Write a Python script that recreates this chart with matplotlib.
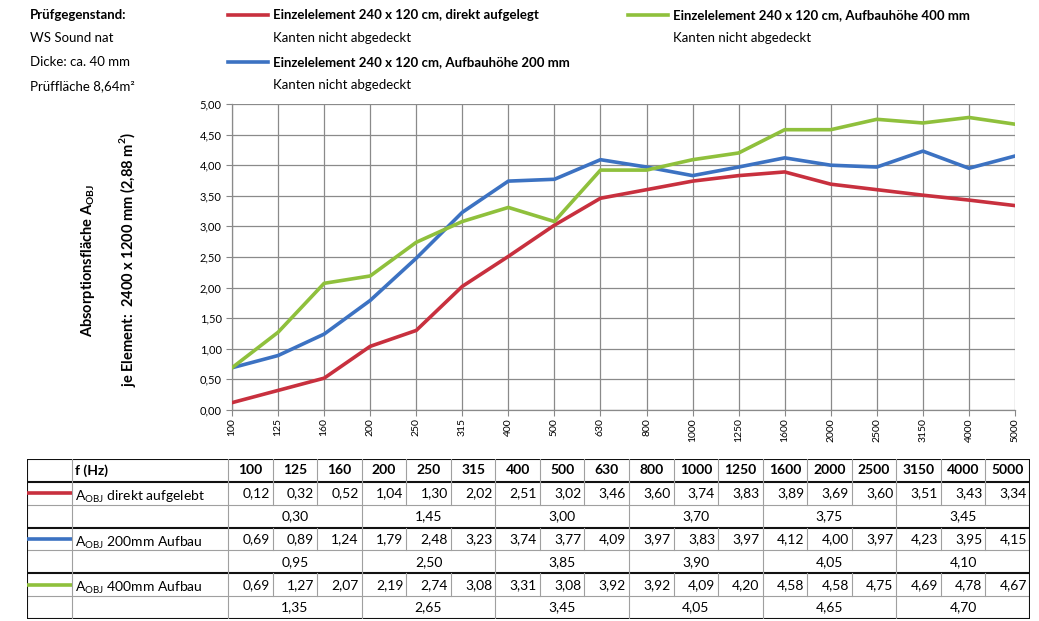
import matplotlib
matplotlib.use("Agg")
import matplotlib.pyplot as plt
from matplotlib.lines import Line2D
from matplotlib.ticker import FuncFormatter

plt.rcParams['font.family'] = ['Lato', 'DejaVu Sans']
plt.rcParams['mathtext.fontset'] = 'custom'
plt.rcParams['mathtext.rm'] = 'Lato'
plt.rcParams['mathtext.bf'] = 'Lato:bold'

# Third-octave band centre frequencies (Hz)
freqs = ["100", "125", "160", "200", "250", "315", "400", "500", "630",
         "800", "1000", "1250", "1600", "2000", "2500", "3150", "4000", "5000"]

# Equivalent absorption area per object, m²
a_direct = [0.12, 0.32, 0.52, 1.04, 1.30, 2.02, 2.51, 3.02, 3.46,
            3.60, 3.74, 3.83, 3.89, 3.69, 3.60, 3.51, 3.43, 3.34]
a_200mm = [0.69, 0.89, 1.24, 1.79, 2.48, 3.23, 3.74, 3.77, 4.09,
           3.97, 3.83, 3.97, 4.12, 4.00, 3.97, 4.23, 3.95, 4.15]
a_400mm = [0.69, 1.27, 2.07, 2.19, 2.74, 3.08, 3.31, 3.08, 3.92,
           3.92, 4.09, 4.20, 4.58, 4.58, 4.75, 4.69, 4.78, 4.67]

# Octave band values (each covers three third-octave bands)
oct_direct = [0.30, 1.45, 3.00, 3.70, 3.75, 3.45]
oct_200mm = [0.95, 2.50, 3.85, 3.90, 4.05, 4.10]
oct_400mm = [1.35, 2.65, 3.45, 4.05, 4.65, 4.70]

row_labels = [r"A$_{\mathrm{OBJ}}$ direkt aufgelebt",
              r"A$_{\mathrm{OBJ}}$ 200mm Aufbau",
              r"A$_{\mathrm{OBJ}}$ 400mm Aufbau"]

RED = "#c8303e"
BLUE = "#3c72c2"
GREEN = "#8fc03c"
series = [(a_direct, oct_direct, RED), (a_200mm, oct_200mm, BLUE), (a_400mm, oct_400mm, GREEN)]

W, H = 1039, 621
fig = plt.figure(figsize=(W / 100, H / 100), dpi=100)


def fx(px):
    return px / W


def fy(py):
    return 1 - py / H


def fmt(v):
    return f"{v:.2f}".replace(".", ",")


# ---- main chart ----
ax = fig.add_axes([fx(232), fy(410), fx(1015) - fx(232), fy(104) - fy(410)])
x = list(range(len(freqs)))
for vals, _, col in series:
    ax.plot(x, vals, color=col, lw=2.6, solid_joinstyle='round', zorder=3)
ax.set_xlim(0, len(freqs) - 1)
ax.set_ylim(0, 5)
ax.set_yticks([i * 0.5 for i in range(11)])
ax.yaxis.set_major_formatter(FuncFormatter(lambda v, p: fmt(v)))
ax.set_xticks(x)
ax.set_xticklabels(freqs, rotation=90, fontsize=7.5)
ax.tick_params(axis='y', labelsize=8, length=4, color="#888888", width=0.8)
ax.tick_params(axis='x', length=4, color="#888888", width=0.8, pad=2)
ax.grid(True, color="#8a8a8a", lw=0.9)
for s in ("top", "right"):
    ax.spines[s].set_visible(False)
for s in ("left", "bottom"):
    ax.spines[s].set_color("#8a8a8a")
    ax.spines[s].set_linewidth(0.9)

fig.text(fx(88), fy(260), r"Absorptionsfläche A$_{\mathbf{OBJ}}$", rotation=90,
         ha='center', va='center', fontsize=10.5, fontweight='bold')
fig.text(fx(128), fy(260), r"je Element:  2400 x 1200 mm (2,88 m$^{\mathbf{2}}$)", rotation=90,
         ha='center', va='center', fontsize=10.5, fontweight='bold')

# ---- header block ----
fs = 9.5
fig.text(fx(30), fy(15), "Prüfgegenstand:", fontsize=fs, fontweight='bold', va='center')
fig.text(fx(30), fy(38), "WS Sound nat", fontsize=fs, va='center')
fig.text(fx(30), fy(62), "Dicke: ca. 40 mm", fontsize=fs, va='center')
fig.text(fx(30), fy(86), "Prüffläche 8,64m²", fontsize=fs, va='center')

legend_items = [
    (228, 15, RED, "Einzelelement 240 x 120 cm, direkt aufgelegt"),
    (228, 62, BLUE, "Einzelelement 240 x 120 cm, Aufbauhöhe 200 mm"),
    (628, 15, GREEN, "Einzelelement 240 x 120 cm, Aufbauhöhe 400 mm"),
]
for lx, ly, col, txt in legend_items:
    fig.add_artist(Line2D([fx(lx), fx(lx + 40)], [fy(ly), fy(ly)], color=col, lw=2.6))
    fig.text(fx(lx + 45), fy(ly), txt, fontsize=fs, fontweight='bold', va='center')
    fig.text(fx(lx + 45), fy(ly + 23), "Kanten nicht abgedeckt", fontsize=fs, va='center')

# ---- data table ----
tfs = 10
tx0, tx1, ty0, ty1 = 27, 1030, 459, 619
tab = fig.add_axes([fx(tx0), fy(ty1), fx(tx1) - fx(tx0), fy(ty0) - fy(ty1)])
tab.set_xlim(0, tx1 - tx0)
tab.set_ylim(7, 0)
tab.axis('off')
c0, c1 = 45, 201
ncol = len(freqs)
cw = (tx1 - tx0 - c1) / ncol
col_l = [c1 + i * cw for i in range(ncol)]

thick = dict(color="#111111", lw=1.5)
thin = dict(color="#a0a0a0", lw=0.8)
# horizontal rules
for r in range(8):
    if r in (0, 1, 3, 5, 7):
        tab.plot([0, tx1 - tx0], [r, r], **thick, solid_capstyle='butt')
    else:
        tab.plot([0, tx1 - tx0], [r, r], **thin)
# vertical rules
tab.plot([0, 0], [0, 7], **thick)
tab.plot([tx1 - tx0, tx1 - tx0], [0, 7], **thick)
tab.plot([c0, c0], [0, 7], **thin)
tab.plot([c1, c1], [0, 7], **thin)
for i in range(1, ncol):
    xv = col_l[i]
    for r in range(7):
        if r in (0, 1, 3, 5) or i % 3 == 0:
            tab.plot([xv, xv], [r, r + 1], **thin)

# header row
tab.text(c0 + 3, 0.5, "f (Hz)", fontsize=tfs, fontweight='bold', va='center', ha='left')
for i, f in enumerate(freqs):
    tab.text(col_l[i] + cw / 2, 0.5, f, fontsize=tfs, fontweight='bold', va='center', ha='center')

for k, (vals, octv, col) in enumerate(series):
    r = 1 + 2 * k
    tab.plot([0, c0], [r + 0.5, r + 0.5], color=col, lw=2.6, solid_capstyle='butt')
    tab.text(c0 + 3, r + 0.55, row_labels[k], fontsize=tfs, va='center_baseline', ha='left')
    for i, v in enumerate(vals):
        tab.text(col_l[i] + cw - 3, r + 0.5, fmt(v), fontsize=tfs, va='center', ha='right')
    for j, v in enumerate(octv):
        xc = col_l[3 * j] + 1.5 * cw
        tab.text(xc, r + 1.5, fmt(v), fontsize=tfs, va='center', ha='center')

fig.savefig("out.png", dpi=100, facecolor="white")
